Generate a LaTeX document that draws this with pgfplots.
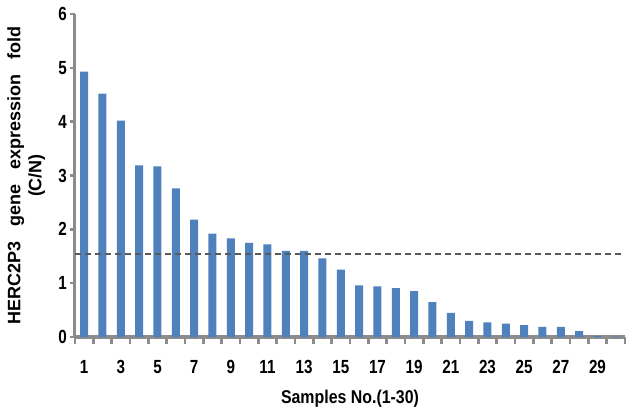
\documentclass[border=0pt]{standalone}
\usepackage{fontspec}
\setmainfont{Liberation Sans}
\newfontfamily\ticksfont{Liberation Sans}[FakeStretch=0.8]
\newfontfamily\xlabfont{Liberation Sans}[FakeStretch=0.86]
\usepackage{pgfplots}
\pgfplotsset{compat=1.18}
\definecolor{barblue}{HTML}{4F81BD}
\definecolor{axgray}{HTML}{8C8C8C}
\definecolor{dashgray}{HTML}{5A5A5A}
\begin{document}
\begin{tikzpicture}
\begin{axis}[
  name=ax,
  scale only axis, width=550pt, height=323pt,
  xmin=0.5, xmax=30.5, ymin=0, ymax=6,
  axis x line*=bottom,
  axis y line*=left,
  x axis line style={draw=axgray, line width=4pt},
  y axis line style={draw=axgray, line width=3pt},
  ytick={0,1,...,6},
  xtick={1,3,...,29},
  minor xtick={0.5,1.5,...,30.5},
  tick align=outside,
  major tick length=5pt,
  minor tick length=7pt,
  major x tick style={draw=none},
  minor x tick style={draw=axgray, line width=2.5pt},
  major y tick style={draw=axgray, line width=2.5pt},
  /pgf/number format/assume math mode=true,
  xticklabel style={font=\ticksfont\bfseries\fontsize{19}{22}\selectfont, inner sep=0pt, anchor=north, yshift=-18pt},
  yticklabel style={font=\ticksfont\bfseries\fontsize{19}{22}\selectfont, inner sep=0pt, anchor=east, xshift=-3pt},
  xlabel={Samples No.(1-30)},
  xlabel style={font=\xlabfont\bfseries\fontsize{18.5}{21}\selectfont, at={(axis description cs:0.5,0)}, anchor=north, inner sep=0pt, yshift=-53pt},
  ylabel={HERC2P3\hspace{15pt}gene\hspace{15pt}expression\hspace{15pt}fold\\(C/N)},
  ylabel style={font=\bfseries\fontsize{18}{21}\selectfont, align=center, at={(axis description cs:-0.1236,0.5)}, anchor=north, inner sep=0pt},
]
\addplot[ybar, bar width=8pt, fill=barblue, draw=none] coordinates {
(1,4.93) (2,4.52) (3,4.02) (4,3.19) (5,3.17) (6,2.76) (7,2.18) (8,1.92) (9,1.83) (10,1.75)
(11,1.72) (12,1.60) (13,1.60) (14,1.46) (15,1.25) (16,0.96) (17,0.94) (18,0.91) (19,0.85) (20,0.65)
(21,0.45) (22,0.30) (23,0.27) (24,0.25) (25,0.22) (26,0.19) (27,0.19) (28,0.11) (29,0.02) (30,0.005)
};
\addplot[dashgray, line width=2pt, dash pattern=on 6pt off 4pt] coordinates {(0.5,1.55) (30.5,1.55)};
\end{axis}
\pgfresetboundingbox
\path[use as bounding box] (ax.south west) ++(-75pt,-73pt) rectangle ++(633pt,410pt);
\end{tikzpicture}
\end{document}
